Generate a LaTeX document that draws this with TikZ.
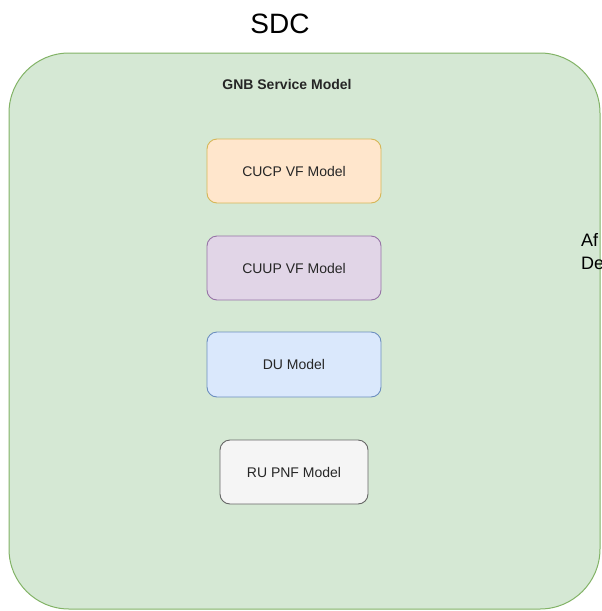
\documentclass[tikz,border=0pt]{standalone}
\usepackage{fontspec}
\setmainfont{Liberation Sans}

\definecolor{greenfill}{HTML}{D5E8D4}
\definecolor{greenline}{HTML}{82B366}
\definecolor{orangefill}{HTML}{FFE6CC}
\definecolor{orangeline}{HTML}{D6B656}
\definecolor{purplefill}{HTML}{E1D5E7}
\definecolor{purpleline}{HTML}{9673A6}
\definecolor{bluefill}{HTML}{DAE8FC}
\definecolor{blueline}{HTML}{6C8EBF}
\definecolor{greyfill}{HTML}{F5F5F5}
\definecolor{greyline}{HTML}{666666}

\tikzset{
  ModelStyle/.style={draw, rounded corners=10, line width=0.9,
    minimum width=174, minimum height=64, inner sep=0,
    font=\fontsize{14}{16}\selectfont, text=black!85}
}

\begin{document}
\begin{tikzpicture}[x=1pt, y=-1pt]
    \useasboundingbox (0,0) rectangle (602,611);
    \clip (0,0) rectangle (602,611);

    \node[font=\fontsize{28}{30}\selectfont] (sdc) at (280,24) {SDC};
    \draw[fill=greenfill, draw=greenline, line width=1, rounded corners=60]
        (9,53) rectangle (600,609);
    \node[font=\bfseries\fontsize{14}{16}\selectfont, text=black!85] (gnb) at (287,84) {GNB Service Model};

    \tikzset{ModelStyle/.append style={fill=orangefill, draw=orangeline}}
    \node[ModelStyle] (cucp) at (294,171) {CUCP VF Model};
    \tikzset{ModelStyle/.append style={fill=purplefill, draw=purpleline}}
    \node[ModelStyle] (cuup) at (294,268) {CUUP VF Model};
    \tikzset{ModelStyle/.append style={fill=bluefill, draw=blueline}}
    \node[ModelStyle, minimum height=65] (du) at (294,364.5) {DU Model};
    \tikzset{ModelStyle/.append style={fill=greyfill, draw=greyline}}
    \node[ModelStyle, minimum width=148] (ru) at (294,472) {RU PNF Model};

    \node[anchor=west, align=left, inner sep=0,
          font=\fontsize{18}{23}\selectfont] (after) at (581,252) {Af\\De};
\end{tikzpicture}
\end{document}
